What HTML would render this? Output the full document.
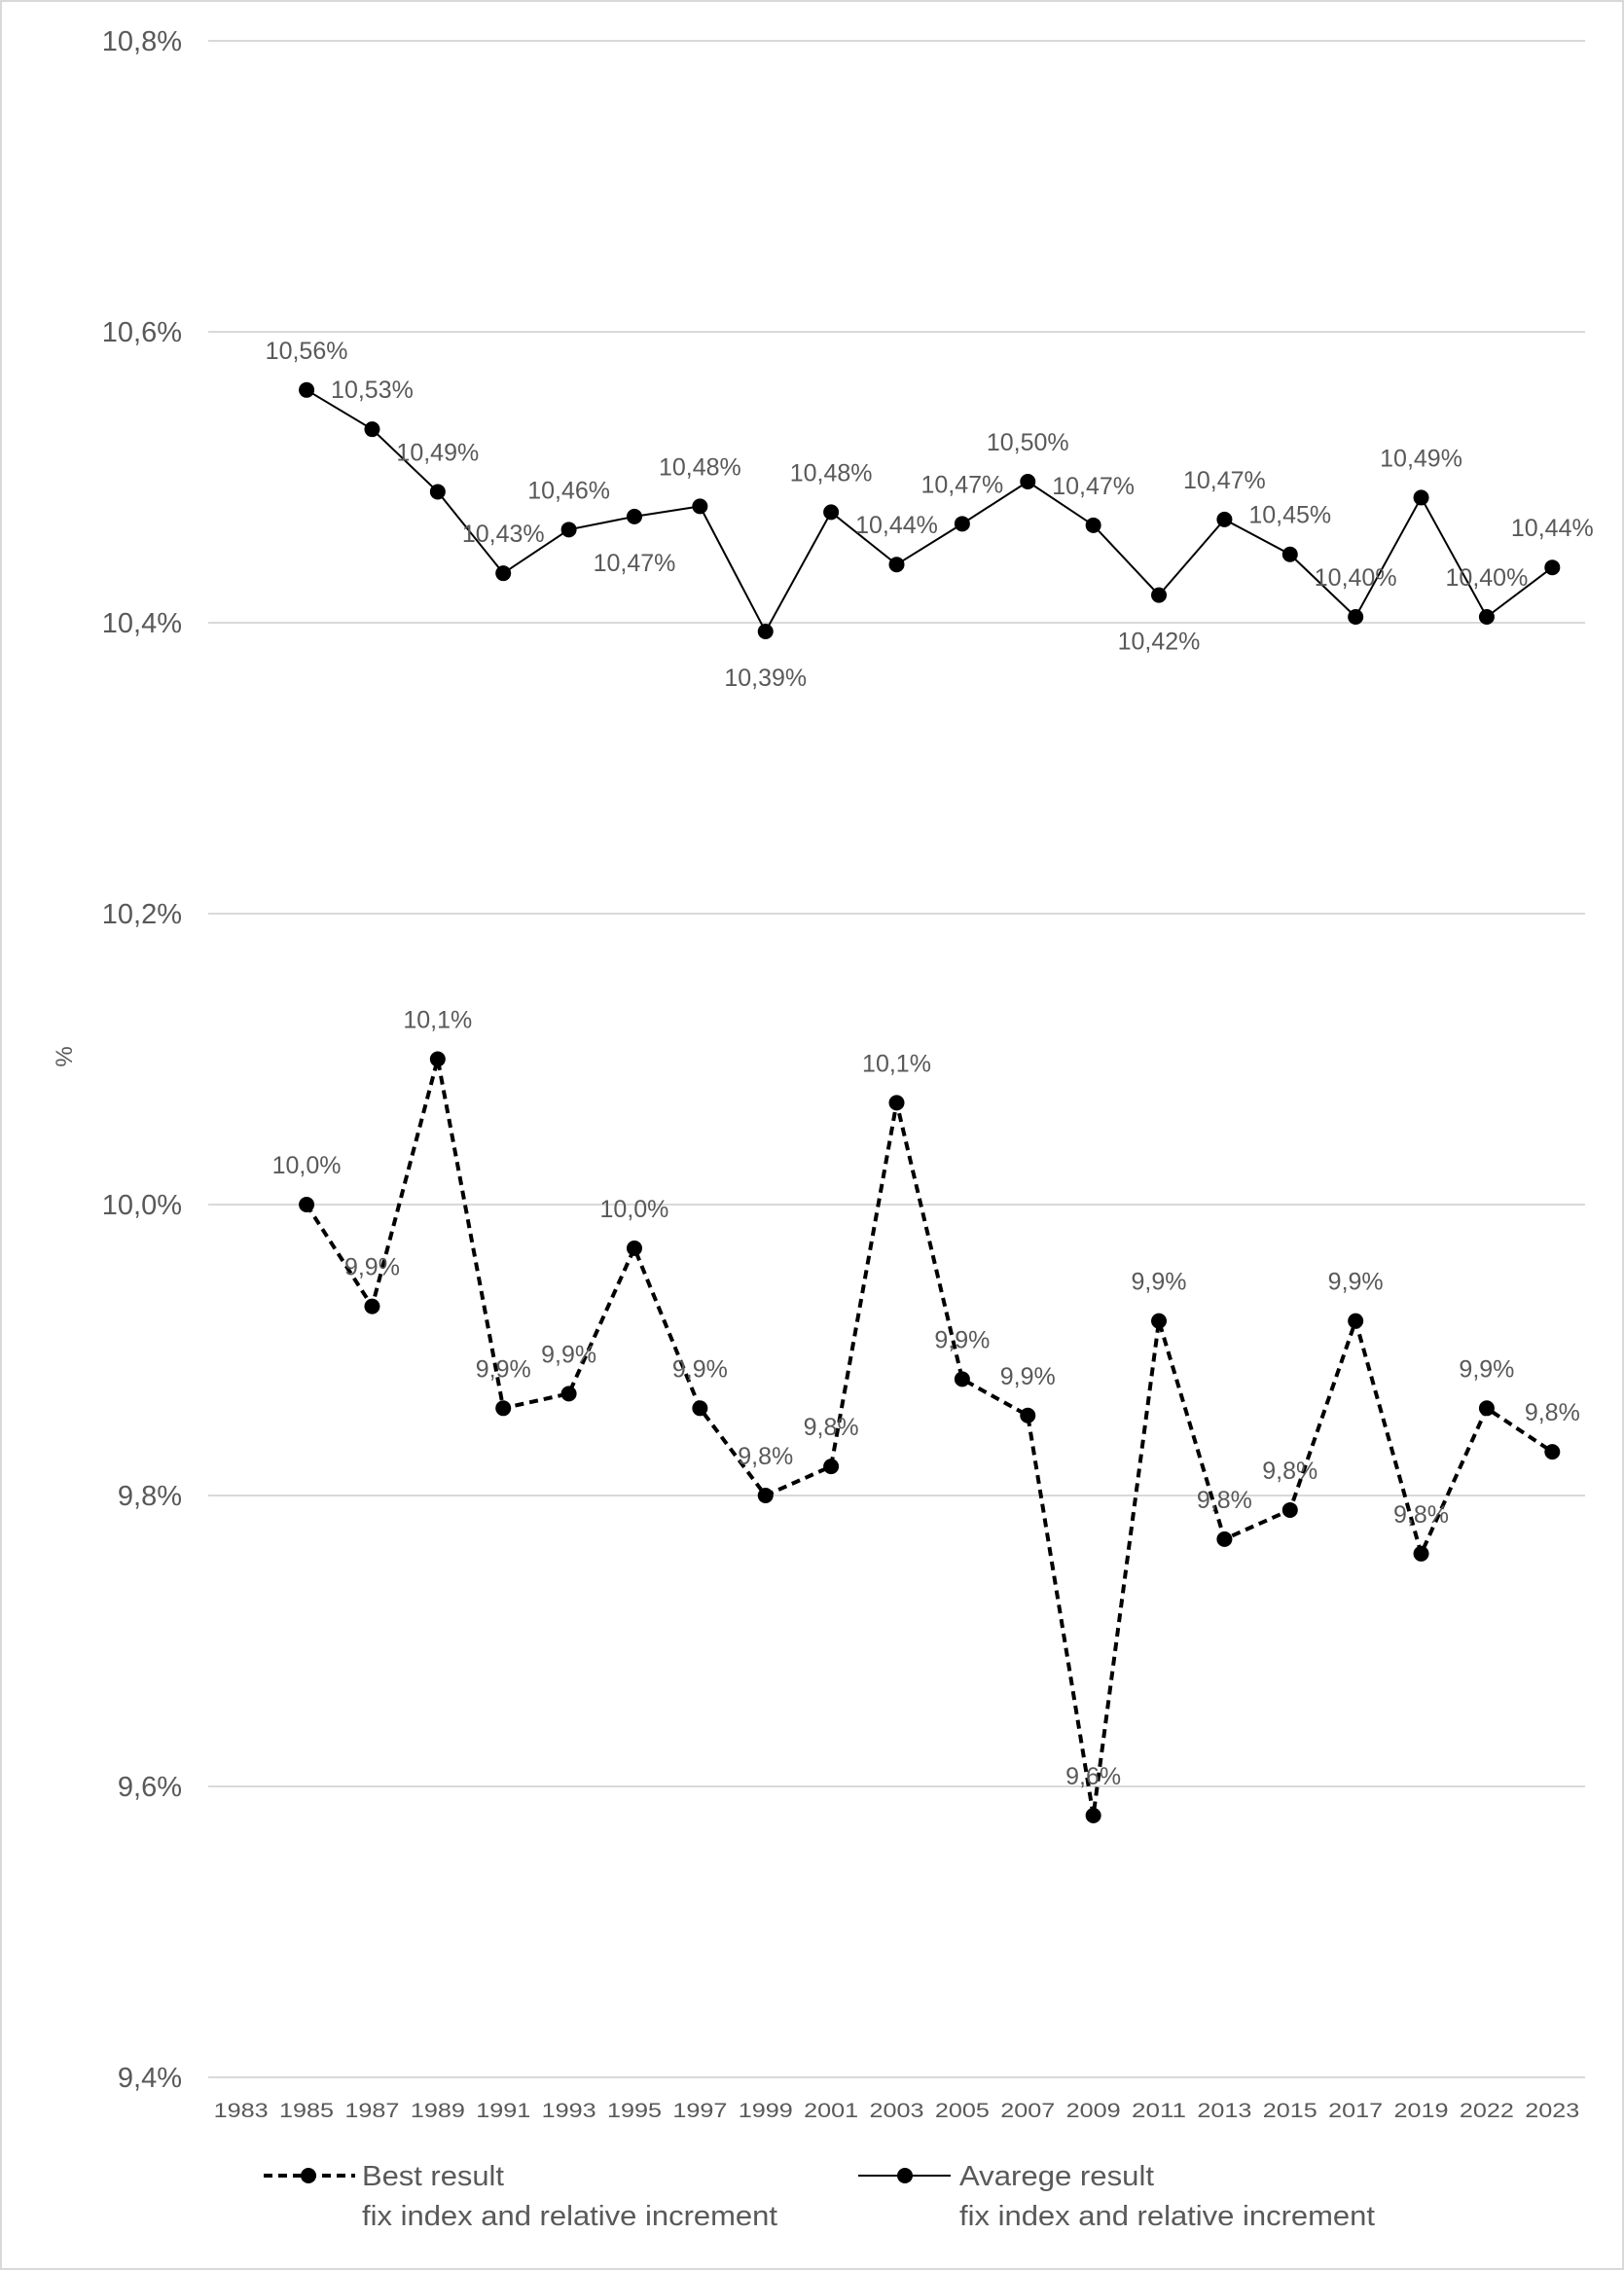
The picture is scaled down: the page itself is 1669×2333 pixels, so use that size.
<!DOCTYPE html>
<html><head><meta charset="utf-8"><style>
html,body{margin:0;padding:0;background:#fff}
svg{display:block}
text{font-family:"Liberation Sans",sans-serif;fill:#595959}
</style></head><body>
<svg id="chart" width="1669" height="2333" viewBox="0 0 1669 2333" xmlns="http://www.w3.org/2000/svg">
<rect x="1" y="1" width="1667" height="2331" fill="#fff" stroke="#d9d9d9" stroke-width="2"/>
<g id="grid"></g><g id="yticks"></g><g id="xticks"></g><g id="series"></g><g id="labels"></g>
<text x="0" y="0" transform="translate(74,1086) rotate(-90)" font-size="24" text-anchor="middle">%</text>
<g>
<g>
<line x1="271" y1="2236" x2="365" y2="2236" stroke="#000" stroke-width="4" stroke-dasharray="9,6"/>
<circle cx="317" cy="2236" r="8" fill="#000"/>
<text x="372" y="2246" font-size="29" textLength="146" lengthAdjust="spacingAndGlyphs">Best result</text>
<text x="372" y="2287" font-size="29" textLength="427" lengthAdjust="spacingAndGlyphs">fix index and relative increment</text>
</g>
<g>
<line x1="882" y1="2236" x2="977" y2="2236" stroke="#000" stroke-width="2"/>
<circle cx="930" cy="2236" r="8" fill="#000"/>
<text x="986" y="2246" font-size="29" textLength="200" lengthAdjust="spacingAndGlyphs">Avarege result</text>
<text x="986" y="2287" font-size="29" textLength="427" lengthAdjust="spacingAndGlyphs">fix index and relative increment</text>
</g>
</g>
</svg>
<script>
const categories=['1983','1985','1987','1989','1991','1993','1995','1997','1999','2001','2003','2005','2007','2009','2011','2013','2015','2017','2019','2022','2023'];
const averageValues=[null,10.56,10.533,10.49,10.434,10.464,10.473,10.48,10.394,10.476,10.44,10.468,10.497,10.467,10.419,10.471,10.447,10.404,10.486,10.404,10.438];
const bestValues=[null,10.0,9.93,10.1,9.86,9.87,9.97,9.86,9.80,9.82,10.07,9.88,9.855,9.58,9.92,9.77,9.79,9.92,9.76,9.86,9.83];
const averageLabelBelow=[0,0,0,0,0,0,1,0,1,0,0,0,0,0,1,0,0,0,0,0,0];
const yTicks=[9.4,9.6,9.8,10.0,10.2,10.4,10.6,10.8];
const NS='http://www.w3.org/2000/svg';
const left=214,right=1629,catW=(right-left)/categories.length;
function x(i){return left+catW*(i+0.5);}
function y(v){return 42+(10.8-v)/0.2*299;}
function mk(tag,attrs,parent){const e=document.createElementNS(NS,tag);for(const k in attrs)e.setAttribute(k,attrs[k]);document.getElementById(parent).appendChild(e);return e;}
yTicks.forEach(t=>{
  const l=mk('line',{x1:left,x2:right,y1:y(t),y2:y(t),stroke:'#d9d9d9','stroke-width':2},'grid');
  
  
  const tx=mk('text',{x:187,y:y(t)+10,'font-size':29,'text-anchor':'end'},'yticks');
  tx.textContent=t.toFixed(1).replace('.',',')+'%';
  
  
});
categories.forEach((c,i)=>{
  const tx=mk('text',{x:x(i),y:2176,'font-size':21,'text-anchor':'middle',textLength:56,lengthAdjust:'spacingAndGlyphs'},'xticks');
  tx.textContent=c;
  
  
});
function path(vals){let d='';vals.forEach((v,i)=>{if(v==null)return;d+=(d?'L':'M')+x(i)+','+y(v);});return d;}
const pa=mk('path',{d:path(averageValues),fill:'none',stroke:'#000','stroke-width':2},'series');


const pb=mk('path',{d:path(bestValues),fill:'none',stroke:'#000','stroke-width':4,'stroke-dasharray':'9,6'},'series');


averageValues.forEach((v,i)=>{
  if(v==null)return;
  const c=mk('circle',{cx:x(i),cy:y(v),r:8,fill:'#000'},'series');
  
  
  const below=averageLabelBelow[i];
  const t=mk('text',{x:x(i),y:y(v)+(below?56:-32),'font-size':25,'text-anchor':'middle'},'labels');
  t.textContent=v.toFixed(2).replace('.',',')+'%';
  
  
});
bestValues.forEach((v,i)=>{
  if(v==null)return;
  const c=mk('circle',{cx:x(i),cy:y(v),r:8,fill:'#000'},'series');
  
  
  const t=mk('text',{x:x(i),y:y(v)-32,'font-size':25,'text-anchor':'middle'},'labels');
  t.textContent=v.toFixed(1).replace('.',',')+'%';
  
  
});
</script>
</body></html>
